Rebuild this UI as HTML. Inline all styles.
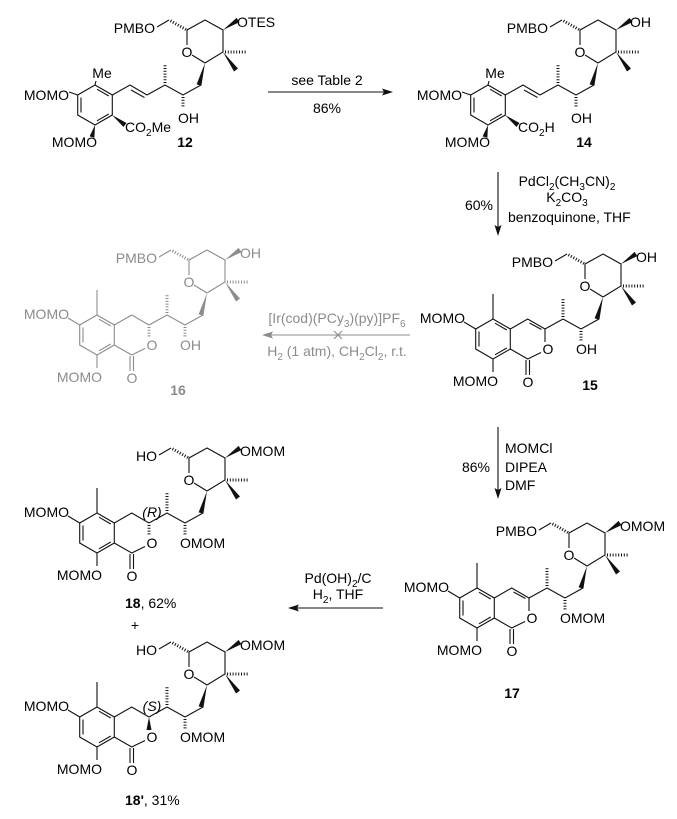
<!DOCTYPE html>
<html><head><meta charset="utf-8"><style>
html,body{margin:0;padding:0;background:#fff;}
svg{display:block;}
text{font-family:"Liberation Sans",Arial,sans-serif;font-size:14px;fill:#000;}
.b{font-weight:bold;}
.g text{fill:#8c8c8c;}
</style></head><body>
<svg width="677" height="819" viewBox="0 0 677 819" xmlns="http://www.w3.org/2000/svg">
<defs>
<g id="arom" fill="none" stroke="currentColor" stroke-width="1.1">
<polygon points="0,-20 17.3,-10 17.3,10 0,20 -17.3,10 -17.3,-10"/>
<path d="M-14,-7.5V7.5 M2,-15.8L13.8,-9 M13.8,9L2,15.8"/>
</g>
<g id="top" fill="none" stroke="currentColor" stroke-width="1.1">
<path d="M52,-10L70,-20L88,-10L106,-20 M110,-42L128,-53V-75L110,-85L92,-75V-60 M97,-50L110,-42 M74,-85L62,-78"/>
<path d="M70,-22V-41 M88,-8V3 M91,-75.5L74,-85 M130,-53L152,-53" stroke-width="3" stroke-dasharray="1 1.8"/>
<polygon fill="currentColor" stroke="none" points="110,-42 106.4,-19.4 101.6,-20.6"/>
<polygon fill="currentColor" stroke="none" points="128,-75 144.4,-82.9 141.6,-87.1"/>
<polygon fill="currentColor" stroke="none" points="128,-53 143,-36.5 139,-33.5"/>
</g>
<g id="iso" fill="none" stroke="currentColor" stroke-width="1.1">
<path d="M17.3,-10L34.7,-20L52,-10 M48,13.5L34.7,20L17.3,10 M33,21V36 M36.5,21V36 M0,-20V-45 M-17.3,-10L-29,-17 M0,20V33"/>
</g>
<g id="open" fill="none" stroke="currentColor" stroke-width="1.1">
<path d="M17.3,-10L35,-20L52,-10 M36,-15L49.5,-7.5 M-17.3,-10L-26,-13 M0,-20L1,-24"/>
<polygon fill="currentColor" stroke="none" points="0,20 -0.6,32.6 -5.4,31.4"/>
<polygon fill="currentColor" stroke="none" points="17,10 28.5,22 31.5,18"/>
</g>
</defs>

<!-- 12 -->
<g transform="translate(95,105)" color="#111">
<use href="#arom"/><use href="#open"/><use href="#top"/>
<text x="7" y="-27" text-anchor="middle">Me</text>
<text x="-26" y="-5" text-anchor="end">MOMO</text>
<text x="2" y="42" text-anchor="end">MOMO</text>
<text x="30" y="27">CO<tspan font-size="10" dy="4">2</tspan><tspan dy="-4">Me</tspan></text>
<text x="83" y="18">OH</text>
<text x="92" y="-48" text-anchor="middle">O</text>
<text x="60" y="-72" text-anchor="end">PMBO</text>
<text x="142" y="-78">OTES</text>
<text class="b" x="90" y="42" text-anchor="middle">12</text>
</g>

<!-- 14 -->
<g transform="translate(488,105)" color="#111">
<use href="#arom"/><use href="#open"/><use href="#top"/>
<text x="7" y="-27" text-anchor="middle">Me</text>
<text x="-26" y="-5" text-anchor="end">MOMO</text>
<text x="2" y="42" text-anchor="end">MOMO</text>
<text x="30" y="27">CO<tspan font-size="10" dy="4">2</tspan><tspan dy="-4">H</tspan></text>
<text x="83" y="18">OH</text>
<text x="92" y="-48" text-anchor="middle">O</text>
<text x="60" y="-72" text-anchor="end">PMBO</text>
<text x="142" y="-78">OH</text>
<text class="b" x="96" y="42" text-anchor="middle">14</text>
</g>

<!-- 15 -->
<g transform="translate(493,339)" color="#111">
<use href="#arom"/><use href="#iso"/><use href="#top"/>
<path d="M36.5,-16L48.5,-9.5 M52,-10V3" stroke="#111" stroke-width="1.1" fill="none"/>
<text x="-28" y="-16" text-anchor="end">MOMO</text>
<text x="5" y="47" text-anchor="end">MOMO</text>
<text x="35" y="48" text-anchor="middle">O</text>
<text x="55" y="15" text-anchor="middle">O</text>
<text x="83" y="15">OH</text>
<text x="92" y="-48" text-anchor="middle">O</text>
<text x="60" y="-72" text-anchor="end">PMBO</text>
<text x="143" y="-77">OH</text>
<text class="b" x="97" y="51" text-anchor="middle">15</text>
</g>

<!-- 16 gray -->
<g transform="translate(97,335)" color="#8c8c8c" class="g">
<use href="#arom"/><use href="#iso"/><use href="#top"/>
<path d="M52,-8V3" stroke="#8c8c8c" stroke-width="3" stroke-dasharray="1 1.8" fill="none"/>
<text x="-28" y="-16" text-anchor="end">MOMO</text>
<text x="5" y="47" text-anchor="end">MOMO</text>
<text x="35" y="48" text-anchor="middle">O</text>
<text x="55" y="15" text-anchor="middle">O</text>
<text x="83" y="15">OH</text>
<text x="92" y="-48" text-anchor="middle">O</text>
<text x="60" y="-72" text-anchor="end">PMBO</text>
<text x="143" y="-77">OH</text>
<text class="b" x="81" y="60" text-anchor="middle">16</text>
</g>

<!-- 17 -->
<g transform="translate(477,608)" color="#111">
<use href="#arom"/><use href="#iso"/><use href="#top"/>
<path d="M36.5,-16L48.5,-9.5 M52,-10V3" stroke="#111" stroke-width="1.1" fill="none"/>
<text x="-28" y="-16" text-anchor="end">MOMO</text>
<text x="5" y="47" text-anchor="end">MOMO</text>
<text x="35" y="48" text-anchor="middle">O</text>
<text x="55" y="15" text-anchor="middle">O</text>
<text x="83" y="15">OMOM</text>
<text x="92" y="-48" text-anchor="middle">O</text>
<text x="60" y="-72" text-anchor="end">PMBO</text>
<text x="143" y="-77">OMOM</text>
<text class="b" x="35" y="90" text-anchor="middle">17</text>
</g>

<!-- 18 -->
<g transform="translate(97,533)" color="#111">
<use href="#arom"/><use href="#iso"/><use href="#top"/>
<path d="M52,-8V3" stroke="#111" stroke-width="3" stroke-dasharray="1 1.8" fill="none"/>
<text x="-28" y="-16" text-anchor="end">MOMO</text>
<text x="5" y="47" text-anchor="end">MOMO</text>
<text x="35" y="48" text-anchor="middle">O</text>
<text x="55" y="15" text-anchor="middle">O</text>
<text x="83" y="15">OMOM</text>
<text x="92" y="-48" text-anchor="middle">O</text>
<text x="60" y="-72" text-anchor="end">HO</text>
<text x="143" y="-77">OMOM</text>
<text x="55" y="-16" text-anchor="middle" font-size="10" font-style="italic">(R)</text>
</g>
<text x="125" y="608"><tspan class="b" font-weight="bold">18</tspan>, 62%</text>
<text x="135" y="630" text-anchor="middle">+</text>

<!-- 18' -->
<g transform="translate(97,727)" color="#111">
<use href="#arom"/><use href="#iso"/><use href="#top"/>
<polygon fill="#111" points="52,-10 49.5,3 54.5,3"/>
<text x="-28" y="-16" text-anchor="end">MOMO</text>
<text x="5" y="47" text-anchor="end">MOMO</text>
<text x="35" y="48" text-anchor="middle">O</text>
<text x="55" y="15" text-anchor="middle">O</text>
<text x="83" y="15">OMOM</text>
<text x="92" y="-48" text-anchor="middle">O</text>
<text x="60" y="-72" text-anchor="end">HO</text>
<text x="143" y="-77">OMOM</text>
<text x="55" y="-16" text-anchor="middle" font-size="10" font-style="italic">(S)</text>
</g>
<text x="125" y="805"><tspan font-weight="bold">18'</tspan>, 31%</text>

<!-- arrows -->
<g stroke="#111" stroke-width="1.1" fill="#111">
<line x1="268" y1="92" x2="386" y2="92"/><polygon stroke="none" points="393,92 382,88.5 384,92 382,95.5"/>
<line x1="498" y1="172" x2="498" y2="229"/><polygon stroke="none" points="498,236 494.5,225 498,227 501.5,225"/>
<line x1="498" y1="427" x2="498" y2="492"/><polygon stroke="none" points="498,499 494.5,488 498,490 501.5,488"/>
<line x1="383" y1="608" x2="295" y2="608"/><polygon stroke="none" points="288,608 299,604.5 297,608 299,611.5"/>
</g>
<g stroke="#8c8c8c" stroke-width="1.1" fill="#8c8c8c">
<line x1="410" y1="335" x2="269" y2="335"/><polygon stroke="none" points="262,335 273,331.5 271,335 273,338.5"/>
<line x1="334" y1="331" x2="342" y2="339"/><line x1="342" y1="331" x2="334" y2="339"/>
</g>
<text x="327" y="85" text-anchor="middle">see Table 2</text>
<text x="327" y="113" text-anchor="middle">86%</text>
<text x="493" y="210" text-anchor="end">60%</text>
<text x="567" y="186" text-anchor="middle">PdCl<tspan font-size="10" dy="4">2</tspan><tspan dy="-4">(CH</tspan><tspan font-size="10" dy="4">3</tspan><tspan dy="-4">CN)</tspan><tspan font-size="10" dy="4">2</tspan></text>
<text x="567" y="202" text-anchor="middle">K<tspan font-size="10" dy="4">2</tspan><tspan dy="-4">CO</tspan><tspan font-size="10" dy="4">3</tspan></text>
<text x="508" y="222">benzoquinone, THF</text>
<g class="g">
<text x="337" y="323" text-anchor="middle">[Ir(cod)(PCy<tspan font-size="10" dy="4">3</tspan><tspan dy="-4">)(py)]PF</tspan><tspan font-size="10" dy="4">6</tspan></text>
<text x="337" y="356" text-anchor="middle">H<tspan font-size="10" dy="4">2</tspan><tspan dy="-4"> (1 atm), CH</tspan><tspan font-size="10" dy="4">2</tspan><tspan dy="-4">Cl</tspan><tspan font-size="10" dy="4">2</tspan><tspan dy="-4">, r.t.</tspan></text>
</g>
<text x="490" y="472" text-anchor="end">86%</text>
<text x="505" y="453">MOMCl</text>
<text x="505" y="472">DIPEA</text>
<text x="505" y="490">DMF</text>
<text x="338" y="583" text-anchor="middle">Pd(OH)<tspan font-size="10" dy="4">2</tspan><tspan dy="-4">/C</tspan></text>
<text x="338" y="599" text-anchor="middle">H<tspan font-size="10" dy="4">2</tspan><tspan dy="-4">, THF</tspan></text>
</svg>
</body></html>
